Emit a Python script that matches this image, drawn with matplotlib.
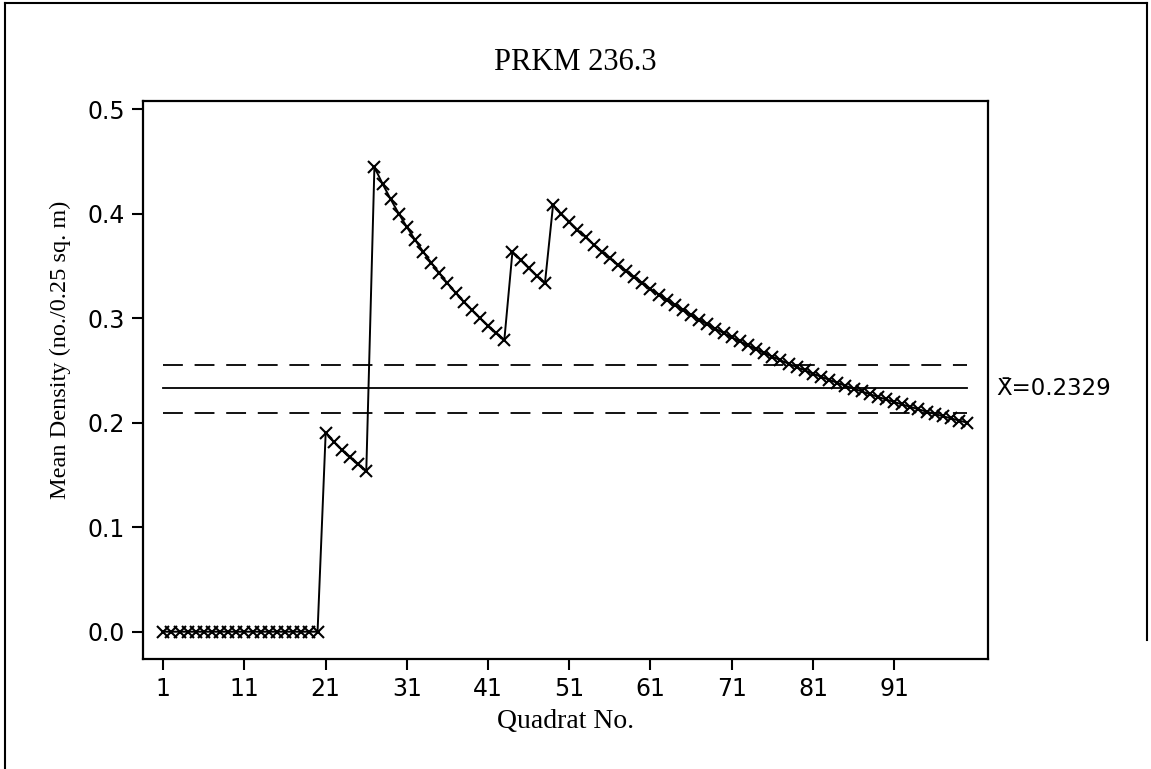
import matplotlib
matplotlib.use("Agg")
import matplotlib.pyplot as plt
from matplotlib.lines import Line2D

# Running mean density per quadrat
quadrat = list(range(1, 101))
mean_density = [
    0.0, 0.0, 0.0, 0.0, 0.0, 0.0, 0.0, 0.0, 0.0, 0.0,
    0.0, 0.0, 0.0, 0.0, 0.0, 0.0, 0.0, 0.0, 0.0, 0.0,
    0.1905, 0.1818, 0.1739, 0.1667, 0.1600, 0.1538,
    0.4444, 0.4286, 0.4138, 0.4000, 0.3871, 0.3750, 0.3636, 0.3529,
    0.3429, 0.3333, 0.3243, 0.3158, 0.3077, 0.3000, 0.2927, 0.2857, 0.2791,
    0.3636, 0.3556, 0.3478, 0.3404, 0.3333,
    0.4082, 0.4000, 0.3922, 0.3846, 0.3774, 0.3704, 0.3636, 0.3571,
    0.3509, 0.3448, 0.3390, 0.3333, 0.3279, 0.3226, 0.3175, 0.3125,
    0.3077, 0.3030, 0.2985, 0.2941, 0.2899, 0.2857, 0.2817, 0.2778,
    0.2740, 0.2703, 0.2667, 0.2632, 0.2597, 0.2564, 0.2532, 0.2500,
    0.2469, 0.2439, 0.2410, 0.2381, 0.2353, 0.2326, 0.2299, 0.2273,
    0.2247, 0.2222, 0.2198, 0.2174, 0.2151, 0.2128, 0.2105, 0.2083,
    0.2062, 0.2041, 0.2020, 0.2000,
]
grand_mean = 0.2329
upper_limit = 0.2552
lower_limit = 0.2092

x_ticks = [1, 11, 21, 31, 41, 51, 61, 71, 81, 91]
y_ticks = [0.0, 0.1, 0.2, 0.3, 0.4, 0.5]

title = "PRKM 236.3"
x_label = "Quadrat No."
y_label = "Mean Density (no./0.25 sq. m)"
mean_label = "X\u0304=0.2329"

W, H, DPI = 1151, 769, 100
fig = plt.figure(figsize=(W / DPI, H / DPI), dpi=DPI)
fig.patch.set_facecolor("white")

ax = fig.add_axes([143.3 / W, 1 - 659 / H, (988.3 - 143.3) / W, (659 - 100.7) / H])

serif = ["Liberation Serif", "DejaVu Serif"]
sans = ["DejaVu Sans"]

# Reference lines for the mean and its limits
x0, x1 = quadrat[0], quadrat[-1]
ax.plot([x0, x1], [grand_mean, grand_mean], color="black", lw=1.3)
for lim in (upper_limit, lower_limit):
    ax.plot([x0, x1], [lim, lim], color="black", lw=1.3,
            linestyle=(0, (11, 6.5)))

ax.plot(quadrat, mean_density, color="black", lw=1.4, marker="x",
        markersize=9, markeredgewidth=1.5)

ax.text(103.6, grand_mean, mean_label, fontsize=16.5, family=sans,
        va="center", ha="left", clip_on=False)

ax.set_xlim(-1.46, 102.6)
ax.set_ylim(-0.0261, 0.508)
ax.set_xticks(x_ticks)
ax.set_xticklabels([str(t) for t in x_ticks])
ax.set_yticks(y_ticks)
ax.set_yticklabels([f"{t:.1f}" for t in y_ticks])
ax.tick_params(axis="both", direction="out", length=8, width=1.5,
               labelsize=17, pad=5, colors="black")
for lab in ax.get_xticklabels() + ax.get_yticklabels():
    lab.set_family(sans)
for sp in ax.spines.values():
    sp.set_linewidth(1.6)
    sp.set_color("black")

ax.set_xlabel(x_label, fontsize=20, family=serif, labelpad=6)
ax.set_ylabel(y_label, fontsize=17.5, family=serif)
ax.yaxis.set_label_coords(-0.085, 0.553)

fig.text(0.5, 1 - 62 / H, title, fontsize=22, family=serif,
         ha="center", va="center")

# Frame around the figure
fig.add_artist(Line2D([5 / W, 5 / W], [0, 1 - 3 / H], transform=fig.transFigure,
                      color="black", lw=1.5))
fig.add_artist(Line2D([5 / W, 1147 / W], [1 - 3 / H, 1 - 3 / H],
                      transform=fig.transFigure, color="black", lw=1.5))
fig.add_artist(Line2D([1147 / W, 1147 / W], [1 - 3 / H, 1 - 640 / H],
                      transform=fig.transFigure, color="black", lw=1.5))

fig.savefig("out.png", dpi=DPI, facecolor="white")
